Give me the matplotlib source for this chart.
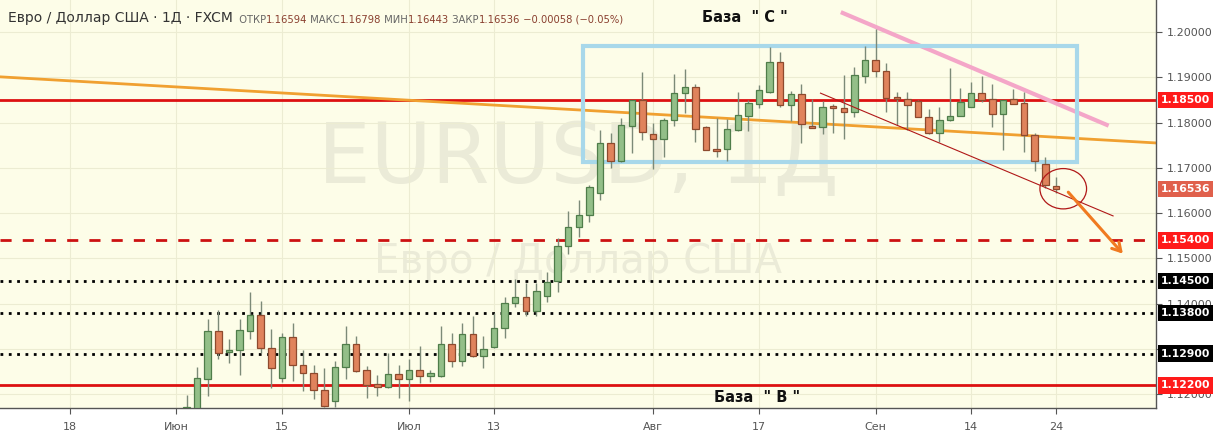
import numpy as np
import pandas as pd
import matplotlib
matplotlib.use("Agg")
import matplotlib.pyplot as plt
import matplotlib.transforms as mtransforms
from matplotlib.patches import Rectangle, Ellipse

# daily EURUSD candles, 2 Jun - 24 Sep 2020 (FXCM)
dates = pd.bdate_range("2020-06-02", "2020-09-24")
opens = [1.1135, 1.1171, 1.1235, 1.1340, 1.1294, 1.1297, 1.1341, 1.1375, 1.1302, 1.1236,
         1.1326, 1.1266, 1.1247, 1.1210, 1.1185, 1.1261, 1.1311, 1.1254, 1.1222, 1.1217,
         1.1244,
         1.1235, 1.1254, 1.1241, 1.1241, 1.1311, 1.1274, 1.1333, 1.1285, 1.1305, 1.1346,
         1.1401, 1.1414, 1.1385, 1.1418, 1.1450, 1.1528, 1.1570, 1.1597, 1.1644, 1.1754,
         1.1716, 1.1793, 1.1850,
         1.1774, 1.1763, 1.1805, 1.1865, 1.1878, 1.1790, 1.1742, 1.1741, 1.1784, 1.1815,
         1.1840, 1.1867, 1.1933, 1.1839, 1.1863, 1.1793, 1.1790, 1.1836, 1.1832, 1.1823,
         1.1903,
         1.1938, 1.1914, 1.1856, 1.1851, 1.1848, 1.1813, 1.1778, 1.1806, 1.1815, 1.1835,
         1.1865, 1.1851, 1.1818, 1.1851, 1.1843, 1.1772, 1.1708, 1.16594]
highs = [1.1199, 1.1260, 1.1367, 1.1386, 1.1323, 1.1367, 1.1427, 1.1407, 1.1344, 1.1336,
         1.1358, 1.1298, 1.1265, 1.1258, 1.1274, 1.1351, 1.1329, 1.1263, 1.1243, 1.1291,
         1.1265,
         1.1278, 1.1307, 1.1254, 1.1350, 1.1336, 1.1357, 1.1374, 1.1329, 1.1379, 1.1414,
         1.1454, 1.1445, 1.1445, 1.1471, 1.1545, 1.1605, 1.1629, 1.1662, 1.1784, 1.1776,
         1.1810, 1.1850, 1.1911,
         1.1799, 1.1810, 1.1907, 1.1918, 1.1885, 1.1793, 1.1810, 1.1807, 1.1868, 1.1850,
         1.1883, 1.1966, 1.1955, 1.1870, 1.1885, 1.1852, 1.1848, 1.1840, 1.1905, 1.1923,
         1.1968,
         1.2006, 1.1932, 1.1868, 1.1868, 1.1850, 1.1829, 1.1835, 1.1920, 1.1876, 1.1890,
         1.1903, 1.1885, 1.1850, 1.1874, 1.1868, 1.1776, 1.1723, 1.16798]
lows = [1.1125, 1.1169, 1.1197, 1.1278, 1.1270, 1.1243, 1.1322, 1.1291, 1.1215, 1.1228,
        1.1230, 1.1208, 1.1189, 1.1172, 1.1172, 1.1234, 1.1250, 1.1192, 1.1197, 1.1215,
        1.1192,
        1.1186, 1.1226, 1.1228, 1.1239, 1.1261, 1.1263, 1.1282, 1.1258, 1.1302, 1.1324,
        1.1392, 1.1372, 1.1374, 1.1405, 1.1425, 1.1509, 1.1548, 1.1581, 1.1630, 1.1700,
        1.1714, 1.1732, 1.1762,
        1.1697, 1.1723, 1.1793, 1.1821, 1.1758, 1.1739, 1.1723, 1.1716, 1.1782, 1.1782,
        1.1832, 1.1865, 1.1834, 1.1804, 1.1756, 1.1788, 1.1775, 1.1776, 1.1763, 1.1813,
        1.1887,
        1.1901, 1.1824, 1.1795, 1.1784, 1.1812, 1.1775, 1.1758, 1.1803, 1.1815, 1.1834,
        1.1845, 1.1790, 1.1740, 1.1841, 1.1734, 1.1694, 1.1655, 1.16443]
closes = [1.1172, 1.1236, 1.1340, 1.1291, 1.1298, 1.1342, 1.1375, 1.1302, 1.1258, 1.1326,
          1.1266, 1.1247, 1.1210, 1.1174, 1.1261, 1.1311, 1.1252, 1.1220, 1.1217, 1.1244,
          1.1235,
          1.1254, 1.1241, 1.1247, 1.1311, 1.1274, 1.1333, 1.1285, 1.1300, 1.1346, 1.1401,
          1.1414, 1.1385, 1.1428, 1.1449, 1.1528, 1.1570, 1.1597, 1.1657, 1.1754, 1.1716,
          1.1794, 1.1850, 1.1779,
          1.1763, 1.1806, 1.1865, 1.1878, 1.1785, 1.1740, 1.1738, 1.1786, 1.1816, 1.1843,
          1.1871, 1.1933, 1.1839, 1.1863, 1.1796, 1.1789, 1.1835, 1.1832, 1.1823, 1.1904,
          1.1938,
          1.1914, 1.1854, 1.1851, 1.1839, 1.1813, 1.1776, 1.1806, 1.1815, 1.1845, 1.1865,
          1.1850, 1.1818, 1.1850, 1.1841, 1.1772, 1.1716, 1.1662, 1.16536]

first_idx = 11  # bar index of 2 Jun (18 May = 0)
tick_pos = [0, 10, 20, 32, 40, 55, 65, 76, 85, 93]
tick_labels = ["18", "Июн", "15", "Июл", "13", "Авг", "17", "Сен", "14", "24"]
price_ticks = [1.12, 1.13, 1.14, 1.15, 1.16, 1.17, 1.18, 1.19, 1.20]

# drawn levels and figures
red_levels = [1.185, 1.122]
dashed_levels = [1.154]
dotted_levels = [1.145, 1.138, 1.129]
orange_line = ([-6.6, 102.5], [1.1901, 1.1755])
pink_line = ([72.9, 97.8], [1.2042, 1.1795])
thin_line = ([70.8, 98.4], [1.1865, 1.1594])
box_x = [48.4, 95.0]
box_y = [1.1712, 1.1970]
arrow_from = (94.0, 1.1651)
arrow_to = (99.5, 1.1506)
circle_c = (93.7, 1.1654)

bg = "#fdfde8"
up_face, up_edge = "#93bf88", "#4f7d4a"
dn_face, dn_edge = "#e0835c", "#8e4a2e"

fig = plt.figure(figsize=(12.13, 4.38), dpi=100)
fig.patch.set_facecolor("white")
ax = fig.add_axes([0, 30 / 438, 1156 / 1213, 408 / 438])
ax.set_facecolor(bg)
ax.set_xlim(-6.6, 102.45)
ax.set_ylim(1.1170, 1.20706)

ax.set_xticks(tick_pos)
ax.set_xticklabels(tick_labels)
ax.set_yticks(price_ticks)
ax.set_yticklabels([f"{p:.5f}" for p in price_ticks])
ax.yaxis.tick_right()
ax.tick_params(axis="both", colors="#555555", length=4, width=0.8)
ax.tick_params(axis="x", labelsize=8, pad=6)
ax.tick_params(axis="y", labelsize=8, pad=4)
ax.grid(True, color="#ececd2", linewidth=0.8)
ax.set_axisbelow(True)
for s in ["top", "left"]:
    ax.spines[s].set_visible(False)
for s in ["bottom", "right"]:
    ax.spines[s].set_color("#555555")
    ax.spines[s].set_linewidth(1.0)

# watermark
ax.text(578 / 1156, 1 - 160 / 408, "EURUSD, 1Д", transform=ax.transAxes, ha="center", va="center",
        fontsize=60, color="#ebebd8", zorder=0.5)
ax.text(578 / 1156, 1 - 262 / 408, "Евро / Доллар США", transform=ax.transAxes, ha="center",
        va="center", fontsize=29, color="#ebebd8", zorder=0.5)

# levels
for lv in red_levels:
    ax.axhline(lv, color="#dd1111", linewidth=2, zorder=2)
for lv in dashed_levels:
    ax.axhline(lv, color="#cc1111", linewidth=2, linestyle=(0, (4, 4)), zorder=2)
for lv in dotted_levels:
    ax.axhline(lv, color="black", linewidth=2, linestyle=(0, (1, 2)), zorder=2)

ax.plot(*orange_line, color="#f0a030", linewidth=2, zorder=2)
ax.plot(*pink_line, color="#f4a6c8", linewidth=3, zorder=2)
ax.plot(*thin_line, color="#b01818", linewidth=0.8, zorder=4)
ax.add_patch(Rectangle((box_x[0], box_y[0]), box_x[1] - box_x[0], box_y[1] - box_y[0],
                       fill=False, edgecolor="#a8d8ea", linewidth=3, zorder=2))

# candles
x = np.arange(first_idx, first_idx + len(dates))
o = np.array(opens)
c = np.array(closes)
up = c >= o
colors_face = np.where(up, up_face, dn_face)
colors_edge = np.where(up, up_edge, dn_edge)
ax.vlines(x, lows, highs, color="#7c8a78", linewidth=1, zorder=3)
body_low = np.minimum(o, c)
body_h = np.maximum(np.abs(c - o), 0.00012)
ax.bar(x, body_h, bottom=body_low, width=0.62, color=colors_face,
       edgecolor=colors_edge, linewidth=0.9, zorder=3)

ax.add_patch(Ellipse(circle_c, 4.4, 0.0089, fill=False, edgecolor="#b01818", linewidth=0.9, zorder=4))
ax.annotate("", xy=arrow_to, xytext=arrow_from,
            arrowprops=dict(arrowstyle="->,head_length=0.6,head_width=0.35", color="#f07a20", lw=2.2),
            zorder=5)

# titles on the chart
ax.text(745 / 1156, 1 - 17 / 408, 'База  " C "', transform=ax.transAxes, ha="center", va="center",
        fontsize=10.5, fontweight="bold", color="#111111")
ax.text(757 / 1156, 1 - 397 / 408, 'База  " В "', transform=ax.transAxes, ha="center", va="center",
        fontsize=10.5, fontweight="bold", color="#111111")

# header
gray = "#666666"
val = "#8a4030"
t = ax.text(8 / 1156, 1 - 22 / 408, "Евро / Доллар США · 1Д · FXCM", transform=ax.transAxes,
            fontsize=10, color="#333333", va="baseline")
parts = [("  ОТКР", gray), ("1.16594", val), (" МАКС", gray), ("1.16798", val),
         (" МИН", gray), ("1.16443", val), (" ЗАКР", gray), ("1.16536", val),
         (" −0.00058 (−0.05%)", val)]
prev = t
for s, col in parts:
    prev = ax.annotate(s, xy=(1, 0), xycoords=prev, va="bottom", ha="left",
                       fontsize=7.2, color=col)

# price labels on the right axis
trans = mtransforms.blended_transform_factory(ax.transAxes, ax.transData)
labels = [(1.185, "#ff1a1a"), (1.16536, "#e0604c"), (1.154, "#ff1a1a"),
          (1.145, "black"), (1.138, "black"), (1.129, "black"), (1.122, "#ff1a1a")]
for lv, col in labels:
    ax.text(1.0045, lv, f"{lv:.5f}", transform=trans, ha="left", va="center",
            fontsize=7.8, fontweight="bold", color="white", zorder=10, clip_on=False,
            bbox=dict(boxstyle="square,pad=0.3", facecolor=col, edgecolor="none"))

fig.savefig("out.png", dpi=100, facecolor="white")
